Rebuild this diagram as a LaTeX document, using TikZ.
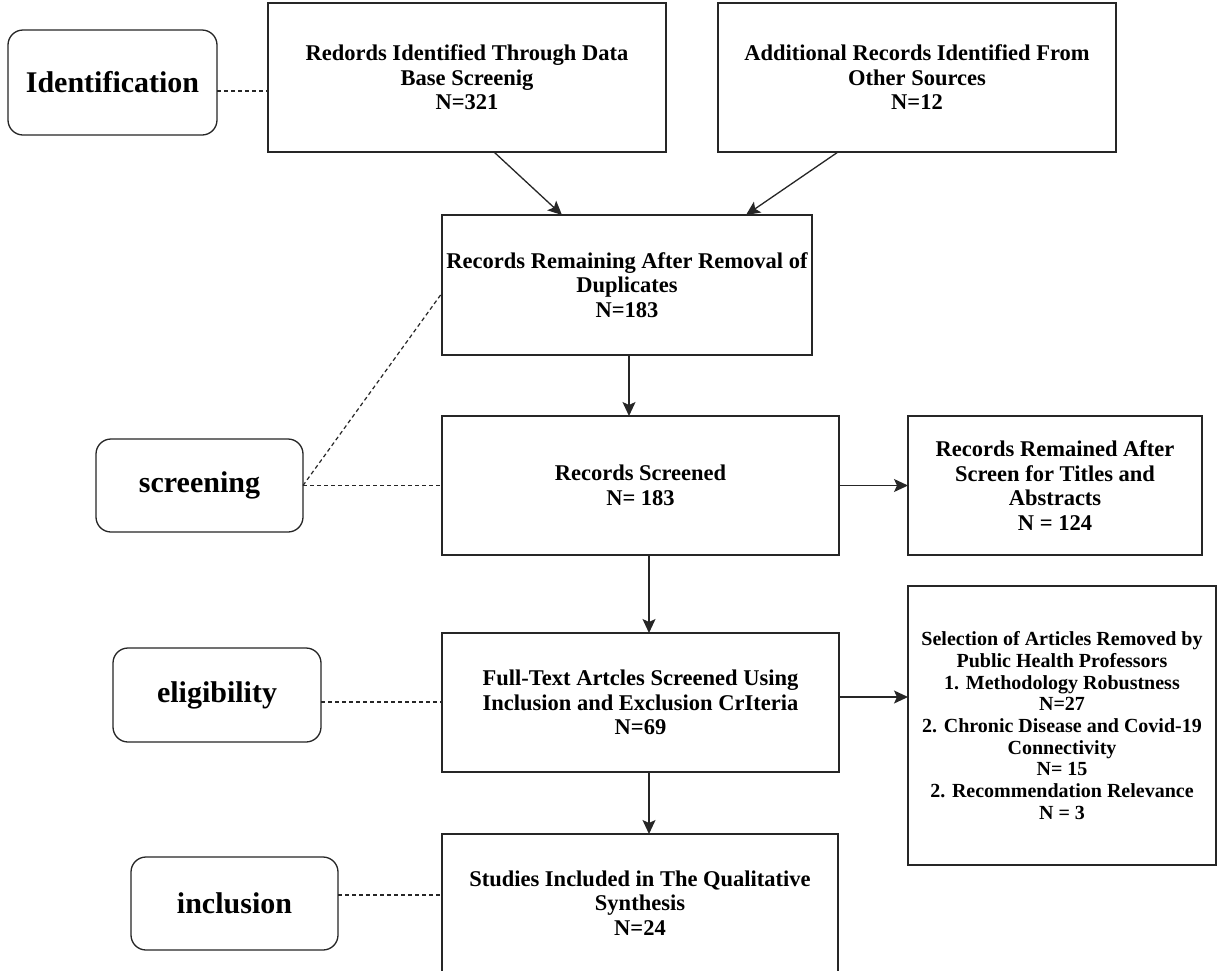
\documentclass[tikz,border=0pt]{standalone}
\usepackage{fontspec}
\setmainfont{Liberation Serif}
\usetikzlibrary{arrows.meta}
\begin{document}
\begin{tikzpicture}[x=1pt,y=-1pt,
  every node/.style={inner sep=0pt,outer sep=0pt,align=center,font=\bfseries},
  flowbox/.style={draw=black!85,line width=1.3pt,rectangle,font=\bfseries\fontsize{22.5}{24.5}\selectfont},
  smallbox/.style={draw=black!85,line width=1.3pt,rectangle,font=\bfseries\fontsize{20}{21.7}\selectfont},
  phase/.style={draw=black!85,line width=1.3pt,rectangle,rounded corners=15pt,font=\bfseries\fontsize{30}{32}\selectfont},
  arr/.style={draw=black!85,line width=1.3pt,-{Stealth[length=14pt,width=13pt,inset=3pt]}},
  dashline/.style={draw=black!85,line width=1.2pt,dash pattern=on 4pt off 3pt}]
\useasboundingbox (0,0) rectangle (1218,970);
\fill[white] (0,0) rectangle (1218,970);

% phase labels
\node[phase,minimum width=209pt,minimum height=105pt] (ident) at (112.5,82.5) {Identification};
\node[phase,minimum width=207pt,minimum height=93pt] (screening) at (199.5,485.5) {screening};
\node[phase,minimum width=208pt,minimum height=94pt] (eligibility) at (217,695) {eligibility};
\node[phase,minimum width=207pt,minimum height=93pt] (inclusion) at (234.5,903.5) {inclusion};

% flow boxes
\node[flowbox,minimum width=398pt,minimum height=149pt] (box1) at (467,77.5)
  {Redords Identified Through Data\\Base Screenig\\N=321};
\node[flowbox,minimum width=398pt,minimum height=149pt] (box2) at (917,77.5)
  {Additional Records Identified From\\Other Sources\\N=12};
\node[flowbox,minimum width=370pt,minimum height=140pt] (box3) at (627,285)
  {Records Remaining After Removal of\\Duplicates\\N=183};
\node[flowbox,minimum width=397pt,minimum height=139pt] (box4) at (640.5,485.5)
  {Records Screened\\N= 183};
\node[flowbox,minimum width=294pt,minimum height=139pt] (box5) at (1055,485.5)
  {Records Remained After\\Screen for Titles and\\Abstracts\\N = 124};
\node[flowbox,minimum width=397pt,minimum height=139pt] (box6) at (640.5,702.5)
  {Full-Text Artcles Screened Using\\Inclusion and Exclusion CrIteria\\N=69};
\node[smallbox,minimum width=308pt,minimum height=279pt] (box7) at (1062,725.5)
  {Selection of Articles Removed by\\Public Health Professors\\1. Methodology Robustness\\N=27\\2. Chronic Disease and Covid-19\\Connectivity\\N= 15\\2. Recommendation Relevance\\N = 3};
\node[flowbox,minimum width=396pt,minimum height=138pt] (box8) at (640,903)
  {Studies Included in The Qualitative\\Synthesis\\N=24};

% arrows
\draw[arr] ([xshift=27pt]box1.south) -- ([xshift=-65pt]box3.north);
\draw[arr] ([xshift=-79pt]box2.south) -- ([xshift=119pt]box3.north);
\draw[arr] ([xshift=2pt]box3.south) -- ([xshift=2pt]box3.south |- box4.north);
\draw[arr] ([xshift=8.5pt]box4.south) -- ([xshift=8.5pt]box4.south |- box6.north);
\draw[arr] ([xshift=8.5pt]box6.south) -- ([xshift=8.5pt]box6.south |- box8.north);
\draw[arr] (box4.east) -- (box5.west);
\draw[arr] ([yshift=5.5pt]box6.east) -- ([yshift=5.5pt]box6.east -| box7.west);

% dashed connectors
\draw[dashline] ([yshift=-8.5pt]ident.east) -- ([yshift=-8.5pt]ident.east -| box1.west);
\draw[dashline] (screening.east) -- (box4.west);
\draw[dashline] (screening.east) -- ([yshift=-8pt]box3.west);
\draw[dashline] ([yshift=-7pt]eligibility.east) -- ([yshift=-7pt]eligibility.east -| box6.west);
\draw[dashline] ([yshift=8.5pt]inclusion.east) -- ([yshift=8.5pt]inclusion.east -| box8.west);
\end{tikzpicture}
\end{document}
